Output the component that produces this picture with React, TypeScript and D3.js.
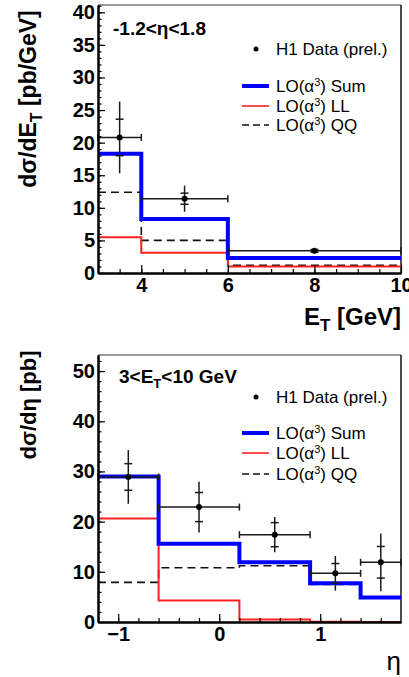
import React, { useRef, useEffect } from 'react';
import * as d3 from 'd3';

// E_T distribution (top panel)
const etEdges = [3, 4, 6, 10];
const etSum = [18.3, 8.3, 2.3];
const etLL = [5.5, 3.1, 1.0];
const etQQ = [12.4, 5.0, 1.2];
const etDataX = [3.5, 5, 8];
const etDataY = [20.8, 11.4, 3.4];
const etStat = [2.8, 0.85, 0.2];
const etTotal = [5.5, 2.0, 0.4];
const etXTicks = [4, 6, 8, 10];
const etYTicks = [0, 5, 10, 15, 20, 25, 30, 35, 40];

// eta distribution (bottom panel)
const etaEdges = [-1.2, -0.6, 0.2, 0.9, 1.4, 1.8];
const etaSum = [29.0, 15.6, 11.9, 7.7, 4.9];
const etaLL = [20.6, 4.3, 0.5, 0.05, 0];
const etaQQ = [7.9, 10.8, 11.2, 7.5, 4.9];
const etaDataX = [-0.9, -0.2, 0.55, 1.15, 1.6];
const etaDataY = [28.9, 22.9, 17.4, 9.7, 11.9];
const etaStat = [2.65, 2.9, 2.4, 1.95, 3.15];
const etaTotal = [5.35, 5.05, 3.5, 3.45, 5.75];
const etaXTicks = [-1, 0, 1];
const etaYTicks = [0, 10, 20, 30, 40, 50];

const FONT = "'Liberation Sans', Arial, Helvetica, sans-serif";

function drawPanel(svg, cfg) {
  const x = d3.scaleLinear().domain(cfg.xDomain).range([98, 401]);
  const y = d3.scaleLinear().domain(cfg.yDomain).range(cfg.yRange);
  const g = svg.append('g');
  const [y0, y1] = cfg.yRange;

  // frame
  g.append('line').attr('x1', 98).attr('x2', 401).attr('y1', y1).attr('y2', y1)
    .attr('stroke', '#777').attr('stroke-width', 1.5);
  g.append('line').attr('x1', 401).attr('x2', 401).attr('y1', y1).attr('y2', y0)
    .attr('stroke', '#111').attr('stroke-width', 1.5);

  // histograms
  const hist = (vals) => {
    const pts = cfg.edges.map((e, i) => [x(e), y(vals[Math.min(i, vals.length - 1)])]);
    return d3.line().curve(d3.curveStepAfter)(pts);
  };
  g.append('path').attr('d', hist(cfg.qq)).attr('fill', 'none')
    .attr('stroke', '#111').attr('stroke-width', 1.6).attr('stroke-dasharray', '8,5');
  g.append('path').attr('d', hist(cfg.ll)).attr('fill', 'none')
    .attr('stroke', '#ff2020').attr('stroke-width', 2);
  g.append('path').attr('d', hist(cfg.sum)).attr('fill', 'none')
    .attr('stroke', '#0000ff').attr('stroke-width', 4);

  // data points
  const pts = g.append('g').attr('stroke', '#1a1a1a').attr('stroke-width', 1.5);
  cfg.dataX.forEach((dx, i) => {
    const cx = x(dx), cy = y(cfg.dataY[i]);
    const xl = x(cfg.edges[i]), xr = x(cfg.edges[i + 1]);
    pts.append('line').attr('x1', xl).attr('x2', xr).attr('y1', cy).attr('y2', cy);
    [xl, xr].forEach(xe => pts.append('line').attr('x1', xe).attr('x2', xe)
      .attr('y1', cy - 3.5).attr('y2', cy + 3.5));
    pts.append('line').attr('x1', cx).attr('x2', cx)
      .attr('y1', y(cfg.dataY[i] + cfg.total[i])).attr('y2', y(cfg.dataY[i] - cfg.total[i]));
    [1, -1].forEach(s => {
      const ys = y(cfg.dataY[i] + s * cfg.stat[i]);
      pts.append('line').attr('x1', cx - 4).attr('x2', cx + 4).attr('y1', ys).attr('y2', ys);
    });
    g.append('circle').attr('cx', cx).attr('cy', cy).attr('r', 3).attr('fill', '#000');
  });

  // axes: ticks point inward
  const yMinor = d3.range(cfg.yDomain[0], cfg.yDomain[1], cfg.yMinorStep);
  g.append('g').attr('transform', 'translate(98,0)')
    .call(d3.axisLeft(y).tickValues(yMinor).tickSize(-3.5).tickFormat(() => '').tickSizeOuter(0));
  const yAx = g.append('g').attr('transform', 'translate(98,0)')
    .call(d3.axisLeft(y).tickValues(cfg.yTicks).tickSize(-7).tickPadding(3).tickSizeOuter(0));
  yAx.selectAll('text').attr('font-size', 20).attr('font-weight', 'bold')
    .attr('font-family', FONT).attr('fill', '#000');

  const xMinor = d3.range(cfg.xMinorStart, cfg.xDomain[1], cfg.xMinorStep);
  g.append('g').attr('transform', `translate(0,${y0})`)
    .call(d3.axisBottom(x).tickValues(xMinor).tickSize(-4).tickFormat(() => '').tickSizeOuter(0));
  const xAx = g.append('g').attr('transform', `translate(0,${y0})`)
    .call(d3.axisBottom(x).tickValues(cfg.xTicks).tickSize(-8).tickPadding(5).tickSizeOuter(0)
      .tickFormat(d3.format('d')));
  xAx.selectAll('text').attr('font-size', 20).attr('font-weight', 'bold')
    .attr('font-family', FONT).attr('fill', '#000');

  svg.selectAll('.domain').attr('stroke', '#000').attr('stroke-width', 2);
  svg.selectAll('.tick line').attr('stroke', '#000').attr('stroke-width', 1.2);

  // legend
  const lg = g.append('g').attr('font-family', FONT).attr('font-size', 17).attr('fill', '#000');
  const ly = cfg.legendY;
  lg.append('circle').attr('cx', 256).attr('cy', ly[0] - 6).attr('r', 2.5);
  lg.append('text').attr('x', 276).attr('y', ly[0]).text('H1 Data (prel.)');
  const items = [
    { label: 'Sum', color: '#0000ff', w: 4, dash: null },
    { label: 'LL', color: '#ff2020', w: 1.6, dash: null },
    { label: 'QQ', color: '#111', w: 1.6, dash: '7,4' },
  ];
  items.forEach((it, i) => {
    const by = ly[i + 1];
    lg.append('line').attr('x1', 242).attr('x2', 269).attr('y1', by - 6).attr('y2', by - 6)
      .attr('stroke', it.color).attr('stroke-width', it.w)
      .attr('stroke-dasharray', it.dash);
    const t = lg.append('text').attr('x', 276).attr('y', by);
    t.append('tspan').text('LO(α');
    t.append('tspan').attr('font-size', 11).attr('dy', -6).text('3');
    t.append('tspan').attr('dy', 6).text(`) ${it.label}`);
  });
}

function App() {
  const svgRef = useRef(null);

  useEffect(() => {
    const svg = d3.select(svgRef.current);
    svg.selectAll('*').remove();

    drawPanel(svg, {
      xDomain: [3, 10], yDomain: [0, 41.12], yRange: [273, 5],
      edges: etEdges, sum: etSum, ll: etLL, qq: etQQ,
      dataX: etDataX, dataY: etDataY, stat: etStat, total: etTotal,
      xTicks: etXTicks, yTicks: etYTicks, xMinorStart: 3.5, xMinorStep: 0.5, yMinorStep: 1,
      legendY: [55, 92, 112, 131],
    });
    drawPanel(svg, {
      xDomain: [-1.2, 1.8], yDomain: [0, 53.2], yRange: [622, 355],
      edges: etaEdges, sum: etaSum, ll: etaLL, qq: etaQQ,
      dataX: etaDataX, dataY: etaDataY, stat: etaStat, total: etaTotal,
      xTicks: etaXTicks, yTicks: etaYTicks, xMinorStart: -1.2, xMinorStep: 0.2, yMinorStep: 2,
      legendY: [403, 439, 459, 480],
    });

    const t = svg.append('g').attr('font-family', FONT).attr('font-weight', 'bold').attr('fill', '#000');

    // panel annotations
    t.append('text').attr('x', 113).attr('y', 35).attr('font-size', 19).text('-1.2<η<1.8');
    const a2 = t.append('text').attr('x', 119).attr('y', 383).attr('font-size', 19);
    a2.append('tspan').text('3<E');
    a2.append('tspan').attr('font-size', 13).attr('dy', 5).text('T');
    a2.append('tspan').attr('dy', -5).text('<10 GeV');

    // axis titles
    const yt1 = t.append('text').attr('font-size', 23).attr('text-anchor', 'middle')
      .attr('transform', 'translate(36,99) rotate(-90)');
    yt1.append('tspan').text('dσ/dE');
    yt1.append('tspan').attr('font-size', 16).attr('dy', 6).text('T');
    yt1.append('tspan').attr('dy', -6).text(' [pb/GeV]');

    const yt2 = t.append('text').attr('font-size', 22).attr('text-anchor', 'middle')
      .attr('transform', 'translate(36,405) rotate(-90)');
    yt2.text('dσ/dη [pb]');

    const xt1 = t.append('text').attr('font-size', 24).attr('text-anchor', 'end')
      .attr('x', 401).attr('y', 325);
    xt1.append('tspan').text('E');
    xt1.append('tspan').attr('font-size', 17).attr('dy', 6).text('T');
    xt1.append('tspan').attr('dy', -6).text(' [GeV]');

    t.append('text').attr('font-size', 26).attr('font-weight', 'normal')
      .attr('text-anchor', 'end').attr('x', 401).attr('y', 670).text('η');
  }, []);

  return (
    <svg ref={svgRef} width={409} height={677}
      style={{ position: 'absolute', left: 0, top: 0, background: '#fff' }} />
  );
}

export default App;
